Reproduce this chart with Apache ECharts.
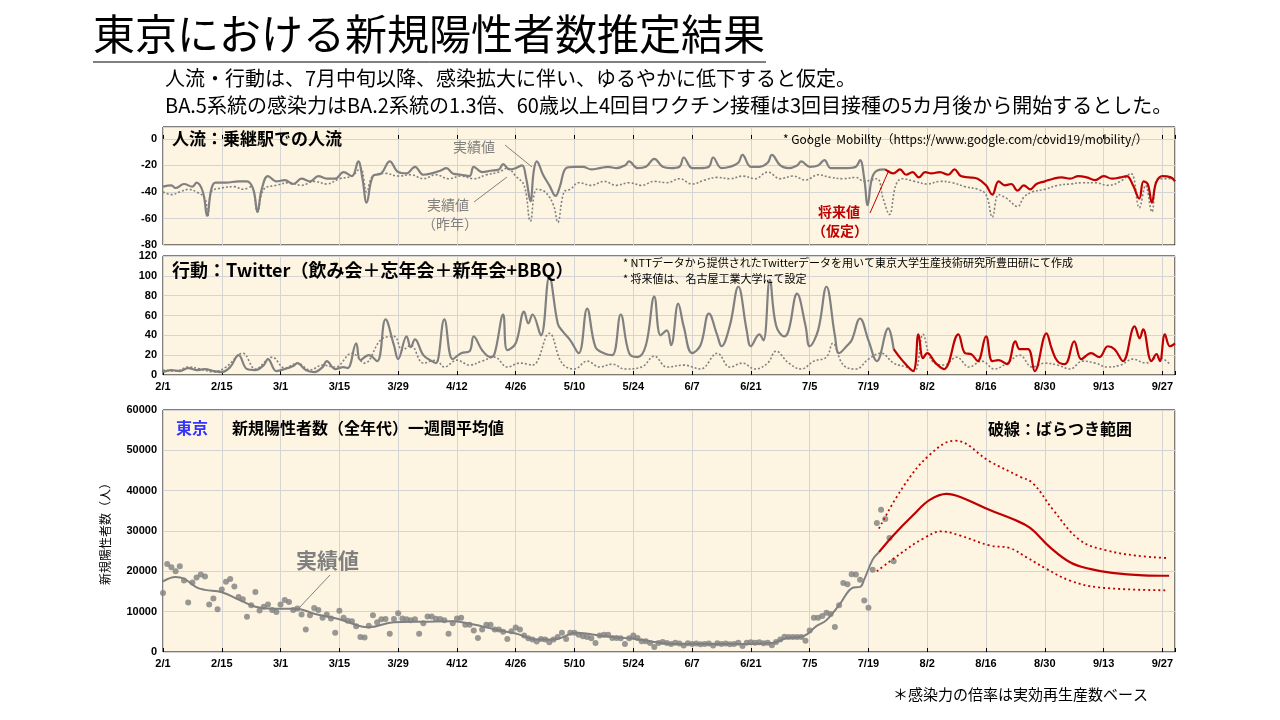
<!DOCTYPE html>
<html><head><meta charset="utf-8">
<script src="https://cdn.jsdelivr.net/npm/echarts@6/dist/echarts.min.js"></script>
<style>html,body{margin:0;padding:0;background:#fff}#c{width:1280px;height:720px}</style>
</head><body><div id="c"></div>
<script>
// day index 0 = 2022/2/1
const xTickDays = [0,14,28,42,56,70,84,98,112,126,140,154,168,182,196,210,224,238];

const mobActual = [[0,-36],[2,-35],[3,-37],[5,-34],[7,-36],[8,-33],[9.5,-40],[10.5,-58],[11.5,-38],[12.5,-33],[15,-33],[18,-32],[20,-32],[21.5,-38],[22.5,-55],[23.5,-38],[25,-28],[27,-32],[29,-31],[31,-34],[33,-30],[35,-32],[37,-28],[39,-30],[41,-30],[43,-25],[45,-28],[46.5,-17],[47.5,-30],[48.5,-48],[50,-28],[52,-26],[54,-17],[56,-25],[58,-26],[60,-21],[62,-27],[64,-26],[66,-24],[67.5,-22],[69,-26],[71,-27],[73,-28],[74,-21],[76,-25],[78,-24],[80,-23],[81,-19],[82.5,-23],[84,-22],[85.5,-20],[86.5,-30],[87.5,-47],[88.3,-24],[89,-17],[90.5,-27],[92,-35],[93.5,-43],[94.5,-36],[96,-22],[98,-21],[100,-21],[102,-23],[104,-22],[106,-21],[108,-22],[110,-20],[111,-17],[113,-22],[115,-21],[117,-15],[119,-21],[121,-22],[123,-21],[124,-14],[126,-22],[128,-22],[130,-21],[131,-14],[133,-22],[135,-21],[137,-18],[138,-12],[140,-21],[142,-21],[144,-18],[145,-12],[147,-20],[149,-22],[151,-20],[152,-17],[154,-21],[156,-20],[157.5,-16],[159,-22],[161,-22],[163,-22],[165,-21],[166,-16],[167,-30],[167.8,-50],[168.8,-30],[170,-24],[172,-23]];
const mobFuture = [[172,-23],[174,-26],[175.5,-23],[177,-27],[178.5,-25],[180,-29],[181.5,-25],[183,-26],[185,-25],[187,-27],[188.5,-23],[190,-28],[192,-29],[194,-30],[196,-35],[197.5,-42],[199,-32],[200.5,-35],[202,-34],[203.5,-39],[205,-35],[206.5,-38],[208,-34],[210,-32],[212,-30],[214,-29],[216,-30],[218,-28],[220,-29],[222,-31],[224,-28],[226,-30],[228,-29],[229.5,-28],[231,-35],[232.5,-45],[233.5,-32],[234.5,-34],[235.5,-48],[236.5,-33],[238,-28],[240,-29],[241,-32]];
const mobLastYear = [[0,-40],[2,-42],[4,-40],[6,-38],[8,-40],[10,-45],[10.7,-58],[11.5,-40],[14,-37],[17,-36],[19,-38],[21,-36],[22.5,-55],[24,-38],[27,-35],[30,-33],[33,-35],[36,-32],[39,-34],[42,-30],[45,-28],[47,-22],[48.5,-40],[50,-28],[53,-26],[56,-28],[59,-27],[62,-30],[65,-27],[68,-30],[71,-28],[74,-30],[77,-27],[80,-25],[82,-22],[84,-28],[86,-35],[87.5,-62],[89,-38],[91,-40],[93,-50],[94,-63],[95.5,-40],[97,-38],[99,-33],[102,-35],[105,-32],[108,-35],[111,-33],[114,-35],[117,-32],[120,-33],[123,-30],[126,-34],[129,-31],[132,-29],[135,-30],[138,-28],[141,-30],[144,-25],[147,-30],[150,-28],[153,-31],[156,-27],[159,-29],[162,-30],[165,-29],[167,-32],[170,-30],[171.5,-45],[173,-57],[174.5,-35],[176,-30],[179,-32],[182,-34],[185,-32],[188,-33],[191,-36],[194,-38],[196,-42],[197.5,-59],[199,-42],[201,-45],[203.5,-51],[205,-44],[207,-40],[210,-38],[213,-35],[216,-34],[219,-33],[222,-33],[225,-35],[228,-32],[230.5,-26],[232.5,-52],[234,-35],[235.5,-55],[237,-30],[240,-30]];

const twActual = [[0,3],[2,5],[4,4],[6,7],[8,5],[10,6],[12,4],[14,3],[16,8],[18,20],[20,6],[22,5],[24,10],[25,16],[27,4],[29,6],[31,9],[32,12],[34,5],[36,3],[38,8],[39,14],[41,6],[43,8],[44,7],[46,32],[47,15],[49,20],[51,14],[53,56],[55,30],[56,16],[58,39],[59,28],[60,36],[62,20],[64,14],[65,12],[67,56],[69,16],[71,22],[73,24],[74,39],[76,25],[78,18],[79,22],[81,61],[82,25],[84,32],[86,64],[87,52],[88,61],[90,40],[92,99],[94,52],[95,45],[97,35],[99,22],[101,67],[103,28],[105,22],[107,20],[109,61],[111,22],[113,18],[115,30],[117,79],[118.5,40],[120,45],[121,30],[122.7,72],[124,49],[126,22],[128,30],[130,62],[132,40],[133,29],[135,50],[137,89],[139,45],[140,29],[142,41],[143,35],[144.5,96],[146,50],[148,39],[149,45],[151,82],[153,50],[154,29],[156,45],[158,89],[160,40],[161,22],[163,30],[164,35],[166,57],[168,35],[170,14],[172.7,47],[174,26]];
const twFuture = [[174,26],[176,15],[178.6,4],[179.9,41],[181,17],[182,22],[184,12],[186,6],[189.4,41],[191,22],[192.5,21],[194,14],[196,39],[197.5,14],[199,15],[201,11],[203,34],[204,26],[206,26],[207.6,4],[210.4,42],[211.6,27],[213,14],[214.8,11],[217,34],[218.7,16],[221,22],[223,18],[225,29],[226.6,26],[228.6,14],[231.4,49],[232.6,37],[233.4,46],[235.4,14],[236.6,21],[237.4,14],[238.6,41],[239.8,29],[241,32]];
const twLastYear = [[0,5],[3,4],[6,8],[9,6],[12,3],[15,8],[19,22],[22,6],[26,18],[29,7],[32,12],[35,5],[38,10],[41,8],[45,22],[48,12],[52,36],[55,39],[57,25],[59,30],[62,12],[65,15],[67,8],[70,15],[73,10],[76,14],[79,18],[82,8],[85,12],[88,10],[92,42],[95,12],[98,6],[101,14],[104,8],[107,11],[110,6],[114,8],[117,19],[120,8],[124,10],[128,6],[132,22],[135,8],[138,12],[141,6],[144,12],[146,24],[149,12],[152,6],[155,14],[158,18],[159.5,32],[162,10],[165,6],[168,16],[171,22],[174,12],[177,8],[179,4],[181,41],[183,15],[186,10],[189,18],[192,8],[195,14],[198,6],[201,12],[204,20],[207,8],[210,12],[213,10],[216,6],[219,14],[222,12],[225,8],[228,10],[231,16],[234,12],[237,18],[240,10]];

// daily new cases, day 0..174
const casesDaily = [14600,21800,21000,20000,21250,17700,12250,17250,18500,19200,18750,11800,13250,10600,15500,17400,18100,16250,13650,13100,
8750,11600,14900,10300,11250,11800,10400,9900,11800,12900,12400,10400,10800,9300,5600,9100,10900,10400,8500,9300,
8300,4750,10250,8500,7750,7650,6400,3750,3600,6500,9100,7400,8100,8200,4500,8200,9600,8300,8100,7900,
8100,4500,7100,8800,8800,8250,8200,7900,4500,7100,8300,8500,6750,6750,5300,3500,5600,6750,6750,5600,
5600,5000,3250,5150,6100,5600,4100,3400,3100,2600,3250,3100,2400,3100,3750,4750,3250,4750,4750,4300,
3900,3750,3400,2250,4100,4300,4300,3500,3500,3400,2000,3400,4100,3500,2650,2650,2250,1250,2250,2500,
2250,2000,2300,2100,1600,2200,2000,2100,1900,2000,2100,1600,2200,2000,2100,1900,2000,2300,1500,2300,
2400,2300,2400,2200,2300,1700,2500,3100,3800,3700,3700,3700,3750,2800,5300,8500,8500,8900,9750,9400,
6200,11600,17100,16800,19300,19200,17900,12750,11000,20400,32000,35250,33000,28250,22500];
const casesAvg = [[0,17500],[3,18600],[5,18200],[8,16000],[10,15400],[14,14800],[18,13000],[22,11200],[26,10700],[31.8,10750],[36,9500],[42,8100],[47,6400],[49,6150],[55,7400],[62,7500],[69,7650],[74,6800],[79,5600],[84,4600],[89,3100],[93,3100],[98.5,4750],[105,3900],[112,3300],[117,2500],[122,2000],[130,2000],[138,2000],[145,2250],[148.5,3400],[152.5,3900],[155.6,6400],[158,7900],[161,11600],[164.4,16000],[166,16150],[167,18000],[169,22900],[170.5,24750]];
const casesForecast = [[170.5,24750],[173.9,28900],[178.6,33900],[182.6,37700],[186.6,39200],[189.7,38500],[196.9,35200],[202.5,32900],[206.5,30750],[211.2,26000],[216,22250],[220.7,20600],[226,19600],[233.4,19000],[239.6,18900]];
const casesUpper = [[170.5,30600],[176.3,41000],[182.6,48900],[188.6,52400],[196.9,47250],[204,43500],[207.2,41800],[212,35200],[218.4,27700],[224.7,25200],[231.8,23900],[238.9,23300]];
const casesLower = [[170,20000],[175.5,24300],[181,28100],[185.4,29900],[189.7,28900],[196.9,26400],[201.7,25750],[205.6,23500],[210.4,20600],[216,17700],[223,16000],[238.9,15300]];

const GRAY='#808080', RED='#c00000', BG='#fdf5e1', GRID='#d4d4d4';
function dayLabel(d){ if(d%14!==0) return ''; const t=new Date(2022,1,1+d); return (t.getMonth()+1)+'/'+t.getDate(); }
const font = '"Noto Sans CJK JP","Noto Sans",sans-serif';
function xAxis(i, showLabel){ return {type:'value',gridIndex:i,min:0,max:241,interval:14,
  axisLine:{show:false},axisTick:{show:true,inside:true,length:4,lineStyle:{color:'#000'}},
  splitLine:{show:true,lineStyle:{color:GRID}},
  axisLabel:{show:showLabel,formatter:v=>dayLabel(v),color:'#000',fontSize:11,fontWeight:'bold',fontFamily:'Liberation Sans',margin:6}}; }
function yAxis(i,min,max,interval){ return {type:'value',gridIndex:i,min:min,max:max,interval:interval,
  axisLine:{show:false},axisTick:{show:false},splitLine:{show:true,lineStyle:{color:GRID}},
  axisLabel:{color:'#000',fontSize:11,fontWeight:'bold',fontFamily:'Liberation Sans',margin:6,formatter:v=>(v%interval===0?String(v):'')}}; }
function line(i,data,color,width,type,z){ return {type:'line',xAxisIndex:i,yAxisIndex:i,data:data,smooth:0.4,showSymbol:false,symbol:'none',
  lineStyle:{color:color,width:width,type:type},z:z||2,silent:true}; }
function txt(l,t,s,f,fill,extra){ return Object.assign({type:'text',left:l,top:t,z:100,style:{text:s,font:f,fill:fill}},extra||{}); }
function ln(x1,y1,x2,y2,c){ return {type:'line',z:100,shape:{x1,y1,x2,y2},style:{stroke:c,lineWidth:1}}; }

const chart = echarts.init(document.getElementById('c'));
chart.setOption({
  animation:false, textStyle:{fontFamily:font},
  grid:[
    {left:163,right:105,top:127,height:118,show:true,backgroundColor:BG,borderColor:'#000',borderWidth:1},
    {left:163,right:105,top:256,height:119,show:true,backgroundColor:BG,borderColor:'#000',borderWidth:1},
    {left:163,right:105,top:410,height:242,show:true,backgroundColor:BG,borderColor:'#000',borderWidth:1}
  ],
  xAxis:[xAxis(0,false),xAxis(1,true),xAxis(2,true)],
  yAxis:[yAxis(0,-80,9,20),yAxis(1,0,120,20),
    Object.assign(yAxis(2,0,60000,10000),{name:'新規陽性者数（人）',nameLocation:'middle',nameGap:52,nameRotate:90,nameTextStyle:{fontSize:12,color:'#000',fontFamily:font}})],
  series:[
    line(0,mobLastYear,GRAY,1.6,[2,2]),
    line(0,mobActual,GRAY,2.2,'solid',3),
    line(0,mobFuture,RED,2.2,'solid',3),
    line(1,twLastYear,GRAY,1.6,[2,2]),
    line(1,twActual,GRAY,2.2,'solid',3),
    line(1,twFuture,RED,2.2,'solid',3),
    {type:'scatter',xAxisIndex:2,yAxisIndex:2,data:casesDaily.map((v,i)=>[i,v]),symbolSize:6,itemStyle:{color:GRAY},z:3,silent:true},
    line(2,casesAvg,GRAY,2,'solid',4),
    line(2,casesForecast,RED,2.2,'solid',4),
    line(2,casesUpper,RED,1.8,[2,3],4),
    line(2,casesLower,RED,1.8,[2,3],4)
  ],
  graphic:[
    txt(93,13,'東京における新規陽性者数推定結果','42px '+font,'#000'),
    ln(93,62,766,62,'#000'),
    txt(165,68,'人流・行動は、7月中旬以降、感染拡大に伴い、ゆるやかに低下すると仮定。','20px '+font,'#000'),
    txt(165,95,'BA.5系統の感染力はBA.2系統の1.3倍、60歳以上4回目ワクチン接種は3回目接種の5カ月後から開始するとした。','20px '+font,'#000'),
    txt(172,130,'人流：乗継駅での人流','bold 17px '+font,'#000'),
    txt(783,133,'* Google  Mobility（https://www.google.com/covid19/mobility/）','12px '+font,'#000'),
    txt(453,140,'実績値','14px '+font,GRAY),
    ln(505,145,532,167,GRAY),
    txt(427,198,'実績値','14px '+font,GRAY),
    txt(422,217,'（昨年）','14px '+font,GRAY),
    ln(474,202,507,177,GRAY),
    txt(818,205,'将来値','bold 14px '+font,RED),
    txt(812,224,'（仮定）','bold 14px '+font,RED),
    ln(870,213,889,170,RED),
    txt(172,261,'行動：Twitter（飲み会＋忘年会＋新年会+BBQ）','bold 18px '+font,'#000'),
    txt(623,257,'* NTTデータから提供されたTwitterデータを用いて東京大学生産技術研究所豊田研にて作成','11px '+font,'#000'),
    txt(623,273,'* 将来値は、名古屋工業大学にて設定','11px '+font,'#000'),
    txt(176,420,'東京','bold 16px '+font,'#3333ff'),
    txt(232,420,'新規陽性者数（全年代）一週間平均値','bold 16px '+font,'#000'),
    txt(988,421,'破線：ばらつき範囲','bold 16px '+font,'#000'),
    txt(296,550,'実績値','bold 21px '+font,GRAY),
    ln(330,575,298,609,GRAY),
    txt(893,687,'＊感染力の倍率は実効再生産数ベース','15px '+font,'#000')
  ]
});
</script></body></html>
